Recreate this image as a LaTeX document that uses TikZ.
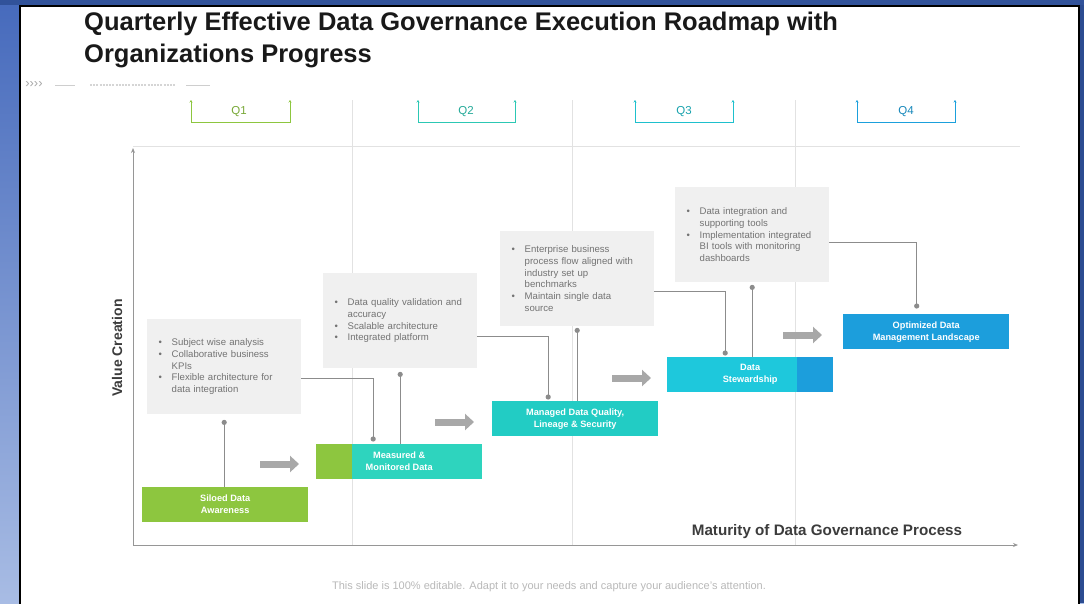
\documentclass[tikz,border=0pt]{standalone}
\usepackage{fontspec}
\setmainfont{Liberation Sans}
\usetikzlibrary{arrows.meta,calc}
\definecolor{bgtop}{RGB}{70,106,188}
\definecolor{bgbot}{RGB}{168,188,228}
\definecolor{bgdark}{RGB}{44,76,145}
\definecolor{qgreen}{RGB}{141,198,63}
\definecolor{qteal}{RGB}{44,200,180}
\definecolor{qcyan}{RGB}{30,192,205}
\definecolor{qblue}{RGB}{27,160,220}
\definecolor{sgreen}{RGB}{141,198,63}
\definecolor{steal}{RGB}{46,212,190}
\definecolor{steal2}{RGB}{34,204,196}
\definecolor{scyan}{RGB}{30,200,220}
\definecolor{sblue}{RGB}{28,158,220}
\definecolor{notegray}{RGB}{240,240,240}
\definecolor{notetext}{RGB}{115,115,115}
\definecolor{linkgray}{RGB}{140,140,140}
\definecolor{gridgray}{RGB}{226,226,226}
\definecolor{axisgray}{RGB}{150,150,150}
\definecolor{arrgray}{RGB}{168,168,168}
\definecolor{textdark}{RGB}{60,60,60}
\definecolor{footgray}{RGB}{185,185,185}
\tikzset{
  stage/.style={anchor=north west, minimum width=166pt, minimum height=35pt, inner sep=0pt,
    text=white, font=\fontsize{9.2}{12}\selectfont\bfseries, align=center},
  note/.style={anchor=north west, fill=notegray, text width=131pt, inner xsep=11.5pt, inner ysep=0pt,
    minimum height=95pt, align=left, text=notetext, font=\fontsize{9.6}{11.7}\selectfont},
  link/.style={draw=linkgray, line width=0.9pt},
  dotmark/.style={fill=linkgray},
  grid line/.style={draw=gridgray, line width=0.8pt},
  bigarrow/.style={draw=arrgray, line width=7pt, -{Triangle[length=9pt,width=16pt]}},
  qbracket/.style={line width=0.8pt, {Stealth[length=2.5pt,width=3pt]}-{Stealth[length=2.5pt,width=3pt]}},
  qlabel/.style={font=\fontsize{11.5}{13}\selectfont},
}
\newcommand{\bul}{\makebox[13pt][l]{\textbullet}}
\newcommand{\ind}{\hspace*{13pt}}
\begin{document}
\begin{tikzpicture}[x=1pt,y=-1pt]
\useasboundingbox (0,0) rectangle (1084,603);
\clip (0,0) rectangle (1084,603);
% background
\shade[top color=bgtop, bottom color=bgbot] (0,0) rectangle (1084,603);
\fill[bgdark] (1078,0) rectangle (1084,603);
\fill[bgdark!80!bgtop] (0,0) rectangle (1084,5);
\draw[black, line width=1.5pt, fill=white] (20,6) rectangle (1079,640);
% title
\node[anchor=north west, align=left, inner sep=0pt, text=black!90,
  font=\bfseries\fontsize{25.5}{32}\selectfont] (title) at (84,12)
  {Quarterly Effective Data Governance Execution Roadmap with\\Organizations Progress};
% decorative line
\node[text=footgray!90!black, font=\fontsize{13}{14}\selectfont, inner sep=0pt] (chev) at (34,85) {››››};
\draw[footgray!70, line width=0.6pt] (55,85) -- (75,85);
\draw[footgray!60, line width=1.8pt, dash pattern=on 2pt off 1.2pt] (90,85) -- (176,85);
\draw[footgray!70, line width=0.6pt] (186,85) -- (210,85);
% grid lines
\draw[grid line] (352,100) -- (352,545);
\draw[grid line] (572,100) -- (572,545);
\draw[grid line] (795,100) -- (795,545);
\draw[grid line] (133,146) -- (1020,146);
% quarter brackets
\draw[qbracket, qgreen] (191,100) -- (191,122) -- (290,122) -- (290,100);
\node[qlabel, text=qgreen!85!black] (q1) at (239,112) {Q1};
\draw[qbracket, qteal] (418,100) -- (418,122) -- (515,122) -- (515,100);
\node[qlabel, text=qteal!85!black] (q2) at (466,112) {Q2};
\draw[qbracket, qcyan] (635,100) -- (635,122) -- (733,122) -- (733,100);
\node[qlabel, text=qcyan!85!black] (q3) at (684,112) {Q3};
\draw[qbracket, qblue] (857,100) -- (857,122) -- (955,122) -- (955,100);
\node[qlabel, text=qblue!85!black] (q4) at (906,112) {Q4};
% axes
\coordinate (origin) at (133,545);
\coordinate (ytop) at (133,148);
\coordinate (xend) at (1018,545);
\draw[draw=axisgray, line width=1pt, -{Stealth[length=5pt,width=4pt]}] (origin) -- (ytop);
\draw[draw=axisgray, line width=1pt, -{Stealth[length=5pt,width=4pt]}] (origin) -- (xend);
\node[rotate=90, text=textdark, font=\bfseries\fontsize{14}{16}\selectfont] (ylab) at (117,348) {Value Creation};
\node[text=textdark, font=\bfseries\fontsize{15.2}{17}\selectfont] (xlab) at (827,532) {Maturity of Data Governance Process};
% footer
\node[text=footgray, font=\fontsize{11}{13}\selectfont] (foot) at (549,587)
  {This slide is 100\% editable. Adapt it to your needs and capture your audience’s attention.};
% notes
\node[note] (nA) at (147,319) {\bul Subject wise analysis\\\bul Collaborative business\\\ind KPIs\\\bul Flexible architecture for\\\ind data integration};
\node[note] (nB) at (323,273) {\bul Data quality validation and\\\ind accuracy\\\bul Scalable architecture\\\bul Integrated platform};
\node[note] (nC) at (500,231) {\bul Enterprise business\\\ind process flow aligned with\\\ind industry set up\\\ind benchmarks\\\bul Maintain single data\\\ind source};
\node[note] (nD) at (675,187) {\bul Data integration and\\\ind supporting tools\\\bul Implementation integrated\\\ind BI tools with monitoring\\\ind dashboards};
% stage boxes
\node[stage, fill=sgreen] (b1) at (142,487) {Siloed Data\\Awareness};
\node[stage, fill=steal, path picture={\fill[sgreen] (path picture bounding box.south west) rectangle ([xshift=36pt]path picture bounding box.north west);}] (b2) at (316,444) {Measured \&\\Monitored Data};
\node[stage, fill=steal2] (b3) at (492,401) {Managed Data Quality,\\Lineage \& Security};
\node[stage, fill=scyan, path picture={\fill[sblue] ([xshift=130pt]path picture bounding box.south west) rectangle (path picture bounding box.north east);}] (b4) at (667,357) {Data\\Stewardship};
\node[stage, fill=sblue] (b5) at (843,314) {Optimized Data\\Management Landscape};
% progress arrows
\draw[bigarrow] (260,464) -- (299,464);
\draw[bigarrow] (435,422) -- (474,422);
\draw[bigarrow] (612,378) -- (651,378);
\draw[bigarrow] (783,335) -- (822,335);
% links: note -> own stage
\coordinate (dA) at ([yshift=-8pt]nA.south);
\coordinate (dB) at ([yshift=-6pt]nB.south);
\coordinate (dC) at ([yshift=-4pt]nC.south);
\coordinate (dD) at ([yshift=-5pt]nD.south);
\draw[link] (dA) -- (dA |- b1.north);
\draw[link] (dB) -- (dB |- b2.north);
\draw[link] (dC) -- (dC |- b3.north);
\draw[link] (dD) -- (dD |- b4.north);
\foreach \d in {dA,dB,dC,dD} {\fill[dotmark] (\d) circle (2.6pt);}
% links: note -> next stage (elbow)
\coordinate (eA) at ([xshift=-26pt,yshift=5pt]b2.north);
\coordinate (eB) at ([xshift=-27pt,yshift=4pt]b3.north);
\coordinate (eC) at ([xshift=-25pt,yshift=4pt]b4.north);
\coordinate (eD) at ([xshift=-9.5pt,yshift=8pt]b5.north);
\draw[link] ([yshift=-11.5pt]nA.east) -| (eA);
\draw[link] ([yshift=-16pt]nB.east) -| (eB);
\draw[link] ([yshift=-12.5pt]nC.east) -| (eC);
\draw[link] ([yshift=-7.5pt]nD.east) -| (eD);
\foreach \e in {eA,eB,eC,eD} {\fill[dotmark] (\e) circle (2.6pt);}
\end{tikzpicture}
\end{document}
